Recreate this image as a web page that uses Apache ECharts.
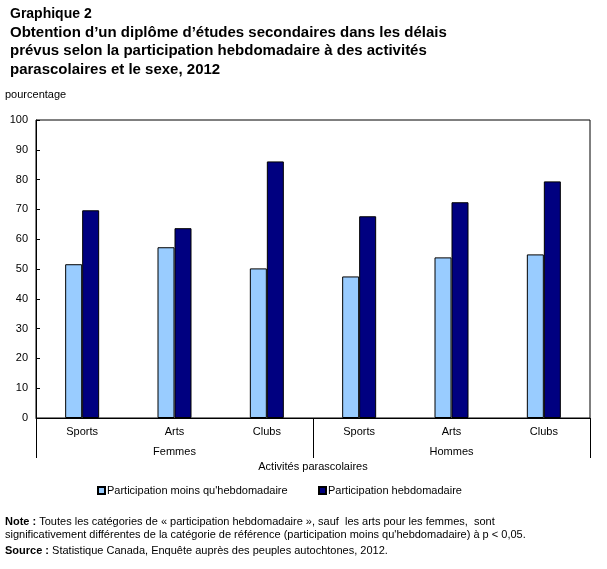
<!DOCTYPE html>
<html>
<head>
<meta charset="utf-8">
<script src="https://cdn.jsdelivr.net/npm/echarts@6/dist/echarts.min.js"></script>
<style>
  html, body { margin: 0; padding: 0; background: #fff; }
  #chart { width: 607px; height: 569px; }
</style>
</head>
<body>
<div id="chart"></div>
<script>
// donnees
var activites = ['Sports', 'Arts', 'Clubs', 'Sports', 'Arts', 'Clubs'];
var sexes = ['Femmes', 'Hommes'];
var moinsHebdo = [51.6, 57.3, 50.2, 47.5, 53.9, 54.9];
var hebdo = [69.7, 63.7, 86.1, 67.7, 72.4, 79.4];
var nomsSeries = ["Participation moins qu'hebdomadaire", 'Participation hebdomadaire'];

var police = 'Liberation Sans, Arial, sans-serif';
var chart = echarts.init(document.getElementById('chart'));

chart.setOption({
  animation: false,
  textStyle: { fontFamily: police, color: '#000' },
  title: {
    text: '{a|Graphique 2}\n{b|Obtention d\u2019un diplôme d\u2019études secondaires dans les délais}\n{b|prévus selon la participation hebdomadaire à des activités}\n{b|parascolaires et le sexe, 2012}',
    left: 5,
    top: 0,
    textStyle: {
      fontSize: 15, fontWeight: 'bold', lineHeight: 18.5, fontFamily: police, color: '#000',
      rich: {
        a: { fontSize: 14, fontWeight: 'bold', lineHeight: 18.5, fontFamily: police, color: '#000' },
        b: { fontSize: 15, fontWeight: 'bold', lineHeight: 18.5, fontFamily: police, color: '#000' }
      }
    }
  },
  legend: [
    {
      data: [nomsSeries[0]],
      left: 97, top: 485, padding: 0,
      itemWidth: 7, itemHeight: 7,
      icon: 'rect',
      textStyle: { fontSize: 11, fontFamily: police, color: '#000', padding: [0, 0, 0, -3] }
    },
    {
      data: [nomsSeries[1]],
      left: 318, top: 485, padding: 0,
      itemWidth: 7, itemHeight: 7,
      icon: 'rect',
      textStyle: { fontSize: 11, fontFamily: police, color: '#000', padding: [0, 0, 0, -3] }
    }
  ],
  grid: {
    left: 36, right: 17, top: 120, bottom: 151,
    show: true, borderColor: '#000', borderWidth: 1
  },
  xAxis: [
    {
      type: 'category',
      data: activites,
      axisLine: { lineStyle: { color: '#000' } },
      axisTick: { show: false },
      axisLabel: { fontSize: 11, color: '#000', margin: 8 }
    },
    {
      type: 'category',
      data: sexes,
      position: 'bottom',
      axisLine: { show: false },
      axisTick: { show: true, interval: 0, length: 40, lineStyle: { color: '#000', width: 1 } },
      axisLabel: { show: true, interval: 0, fontSize: 11, color: '#000', margin: 28 },
      name: 'Activités parascolaires',
      nameLocation: 'middle',
      nameGap: 43,
      nameTextStyle: { fontSize: 11, color: '#000' }
    }
  ],
  yAxis: {
    type: 'value',
    min: 0, max: 100, interval: 10,
    name: 'pourcentage',
    nameLocation: 'end',
    nameGap: 20,
    nameTextStyle: { fontSize: 11, color: '#000', align: 'left', padding: [0, 0, 0, -31] },
    axisLine: { show: true, lineStyle: { color: '#000' } },
    axisTick: { show: true, inside: true, length: 4, lineStyle: { color: '#000' } },
    axisLabel: { fontSize: 11, color: '#000', margin: 8 },
    splitLine: { show: false }
  },
  series: [
    {
      name: nomsSeries[0],
      type: 'bar',
      xAxisIndex: 0,
      data: moinsHebdo,
      barWidth: 17,
      barGap: '0%',
      itemStyle: { color: '#99CCFF', borderColor: '#000', borderWidth: 1 }
    },
    {
      name: nomsSeries[1],
      type: 'bar',
      xAxisIndex: 0,
      data: hebdo,
      barWidth: 17,
      barGap: '0%',
      itemStyle: { color: '#000080', borderColor: '#000', borderWidth: 1 }
    }
  ],
  graphic: [
    {
      type: 'text', left: 5, top: 515,
      style: {
        text: '{b|Note :} Toutes les catégories de « participation hebdomadaire », sauf  les arts pour les femmes,  sont\nsignificativement différentes de la catégorie de référence (participation moins qu\'hebdomadaire) à p < 0,05.',
        font: '11px ' + police,
        lineHeight: 13,
        fill: '#000',
        rich: { b: { fontWeight: 'bold', fontSize: 11, fontFamily: police } }
      }
    },
    {
      type: 'text', left: 5, top: 545,
      style: {
        text: '{b|Source :} Statistique Canada, Enquête auprès des peuples autochtones, 2012.',
        font: '11px ' + police,
        fill: '#000',
        rich: { b: { fontWeight: 'bold', fontSize: 11, fontFamily: police } }
      }
    }
  ]
});
</script>
</body>
</html>
